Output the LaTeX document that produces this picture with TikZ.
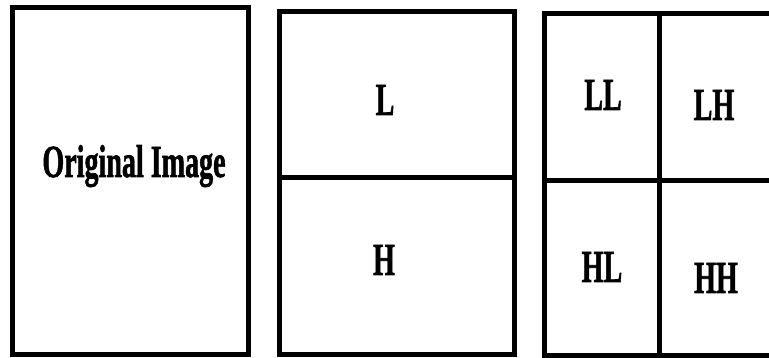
\documentclass[tikz,border=0pt]{standalone}
\usepackage{fontspec}
\setmainfont{Liberation Serif}[BoldFeatures={FakeBold=1.6}]
\usetikzlibrary{positioning}

\tikzset{
    frame/.style={line width=5pt, line join=miter},
    band/.style={font=\fontsize{46}{50}\selectfont\bfseries, xscale=0.61, anchor=base, inner sep=0pt}
}

\begin{document}
\begin{tikzpicture}[x=1pt, y=-1pt]

    \useasboundingbox (0,0) rectangle (769,358);

    % original image
    \draw[frame] (12,8) rectangle (248,354);
    \node[band] (orig) at (134,177) {Original Image};

    % first level: L and H
    \draw[frame] (279,12) rectangle (514,354);
    \draw[frame] (279,178) -- (514,178);
    \node[band] (low) at (385,115) {L};
    \node[band] (high) at (384,275) {H};

    % second level: LL, LH, HL, HH
    \draw[frame] (544,14) rectangle (775,355);
    \draw[frame] (659,14) -- (659,355);
    \draw[frame] (544,181) -- (775,181);
    \node[band] (ll) at (603,110) {LL};
    \node[band] (lh) at (714,120) {LH};
    \node[band] (hl) at (602,282) {HL};
    \node[band] (hh) at (716,293) {HH};

\end{tikzpicture}
\end{document}
